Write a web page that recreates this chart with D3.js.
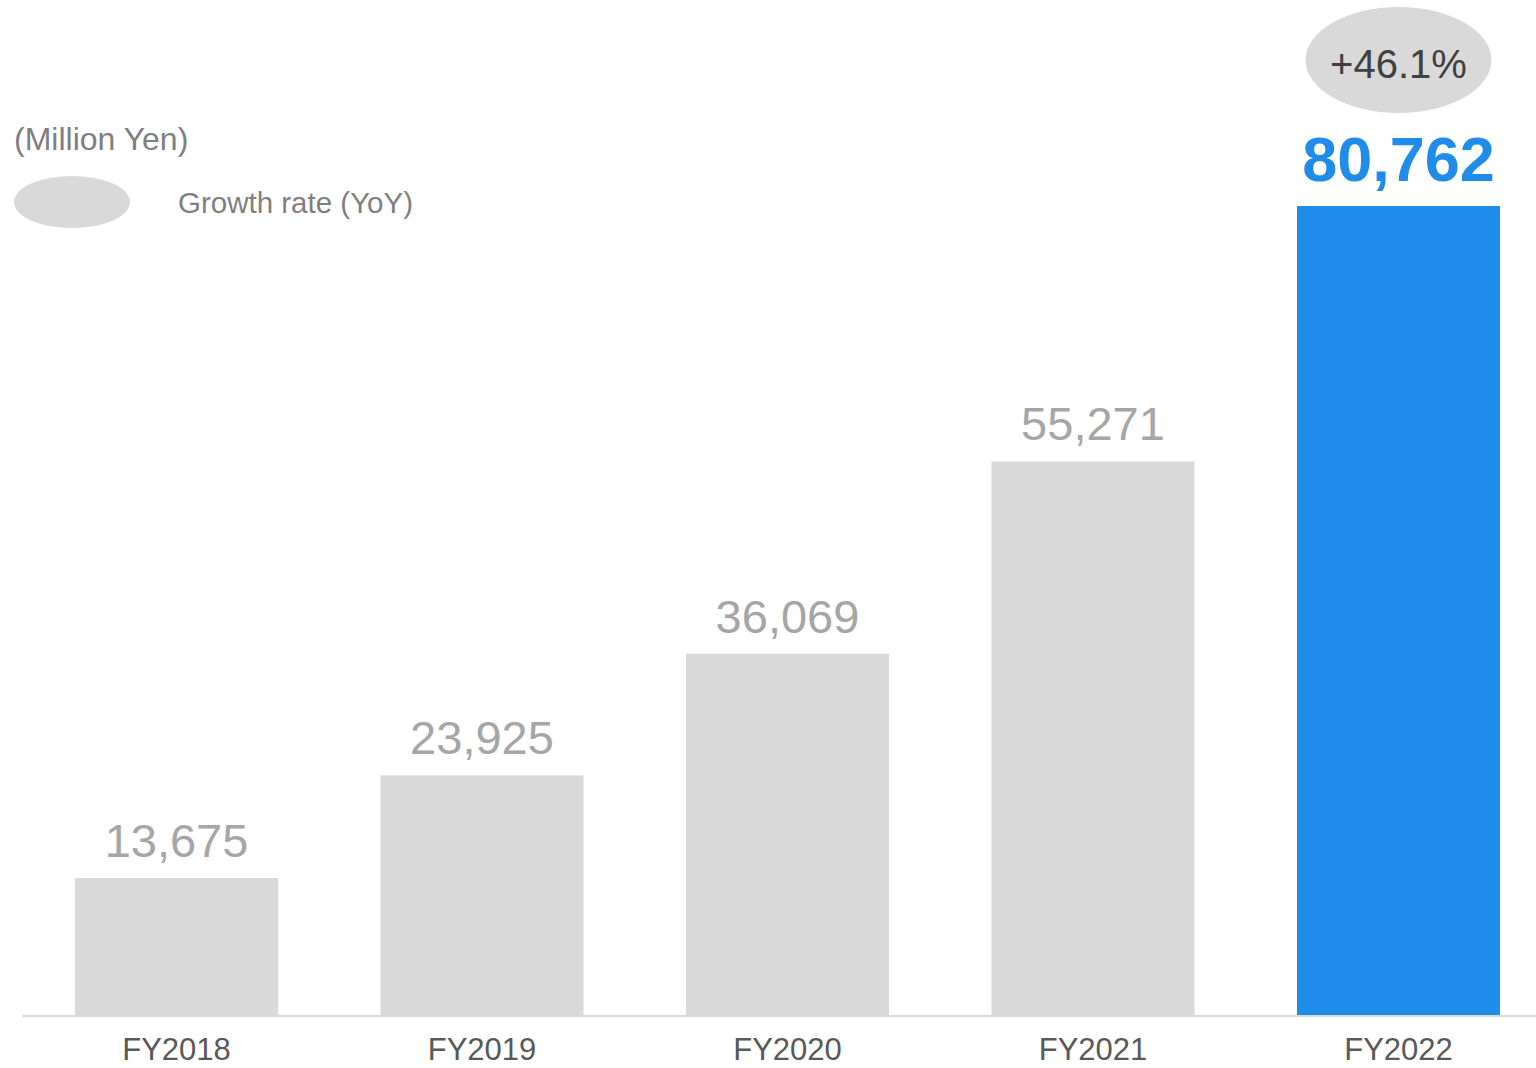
<!DOCTYPE html>
<html>
<head>
<meta charset="utf-8">
<script src="https://cdn.jsdelivr.net/npm/d3@7"></script>
<style>
  html, body { margin: 0; padding: 0; background: #fff; }
  svg { display: block; font-family: "Liberation Sans", Arial, sans-serif; }
</style>
</head>
<body>
<svg id="chart" width="1536" height="1068"></svg>
<script>
// Annual values (million yen)
const categories = ["FY2018", "FY2019", "FY2020", "FY2021", "FY2022"];
const values = [13675, 23925, 36069, 55271, 80762];
const valueLabels = ["13,675", "23,925", "36,069", "55,271", "80,762"];
const growthLabel = "+46.1%";
const unitLabel = "(Million Yen)";
const legendLabel = "Growth rate (YoY)";

const baseY = 1015;
const svg = d3.select("#chart");

const x = d3.scaleBand()
  .domain(categories)
  .range([23.75, 1551.25])
  .paddingInner(0.3355)
  .paddingOuter(0.1678);

const y = d3.scaleLinear()
  .domain([0, 101330])
  .range([baseY, 0]);

const last = categories.length - 1;

// bars
svg.selectAll("rect.bar")
  .data(values)
  .join("rect")
  .attr("class", "bar")
  .attr("x", (d, i) => x(categories[i]))
  .attr("y", d => y(d))
  .attr("width", x.bandwidth())
  .attr("height", d => y(0) - y(d))
  .attr("fill", (d, i) => i === last ? "#1e8ce8" : "#d9d9d9");

// baseline axis
const axis = svg.append("g")
  .attr("transform", `translate(0,${baseY + 1})`)
  .call(d3.axisBottom(x).tickSize(0));
axis.select(".domain").attr("d", "M22,0H1536").attr("stroke", "#d9d9d9").attr("stroke-width", 2);
axis.selectAll("text")
  .attr("y", 44)
  .attr("dy", null)
  .attr("font-size", 31)
  .attr("fill", "#595959")
  .attr("font-family", "Liberation Sans, Arial, sans-serif");

// value labels
svg.selectAll("text.val")
  .data(values)
  .join("text")
  .attr("class", "val")
  .attr("x", (d, i) => x(categories[i]) + x.bandwidth() / 2)
  .attr("y", (d, i) => y(d) - (i === last ? 25 : 21))
  .attr("text-anchor", "middle")
  .attr("font-size", (d, i) => i === last ? 63 : 47)
  .attr("font-weight", (d, i) => i === last ? "bold" : "normal")
  .attr("fill", (d, i) => i === last ? "#1e8ce8" : "#a6a6a6")
  .text((d, i) => valueLabels[i]);

// growth bubble above the latest bar
const cx = x(categories[last]) + x.bandwidth() / 2;
svg.append("ellipse")
  .attr("cx", cx).attr("cy", 60).attr("rx", 93).attr("ry", 53)
  .attr("fill", "#d9d9d9");
svg.append("text")
  .attr("x", cx).attr("y", 78)
  .attr("text-anchor", "middle")
  .attr("font-size", 40)
  .attr("fill", "#404040")
  .text(growthLabel);

// unit and legend
svg.append("text")
  .attr("x", 14).attr("y", 150)
  .attr("font-size", 32)
  .attr("fill", "#7f7f7f")
  .text(unitLabel);
svg.append("ellipse")
  .attr("cx", 72).attr("cy", 202).attr("rx", 58).attr("ry", 26)
  .attr("fill", "#d9d9d9");
svg.append("text")
  .attr("x", 178).attr("y", 213)
  .attr("font-size", 29.5)
  .attr("fill", "#7f7f7f")
  .text(legendLabel);
</script>
</body>
</html>
